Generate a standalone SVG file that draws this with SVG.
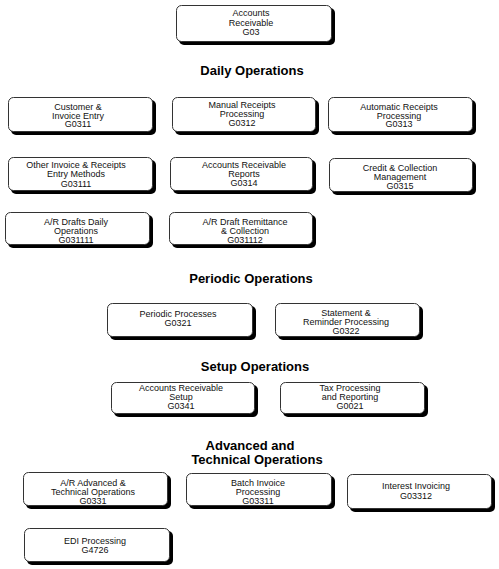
<svg xmlns="http://www.w3.org/2000/svg" width="499" height="569" viewBox="0 0 499 569">
<style>
.sh{fill:#000}
.bx{fill:#fff;stroke:#333;stroke-width:1}
.t{font-family:"Liberation Sans",Arial,sans-serif;font-size:9px;fill:#111;text-anchor:middle}
.h{font-family:"Liberation Sans",Arial,sans-serif;font-size:13px;font-weight:bold;fill:#000;text-anchor:middle}
</style>
<rect width="499" height="569" fill="#fff"/>
<g id="headings">
<text class="h" x="252" y="75">Daily Operations</text>
<text class="h" x="251" y="283">Periodic Operations</text>
<text class="h" x="255" y="371">Setup Operations</text>
<text class="h" x="250" y="450">Advanced and</text>
<text class="h" x="257" y="464">Technical Operations</text>
</g>
<g id="connectors"></g>
<g id="n-g03">
<rect class="sh" x="179" y="8" width="156" height="37" rx="5"/>
<rect class="bx" x="176.5" y="5.5" width="155" height="36" rx="5"/>
<text class="t" x="251" y="16">Accounts</text>
<text class="t" x="251" y="25.5">Receivable</text>
<text class="t" x="251" y="34.5">G03</text>
</g>
<g id="n-g0311">
<rect class="sh" x="11" y="100" width="145" height="35" rx="5"/>
<rect class="bx" x="8.5" y="97.5" width="144" height="34" rx="5"/>
<text class="t" x="78" y="110">Customer &amp;</text>
<text class="t" x="78" y="118.5">Invoice Entry</text>
<text class="t" x="78" y="127">G0311</text>
</g>
<g id="n-g0312">
<rect class="sh" x="175" y="100" width="144" height="35" rx="5"/>
<rect class="bx" x="172.5" y="97.5" width="143" height="34" rx="5"/>
<text class="t" x="242" y="108">Manual Receipts</text>
<text class="t" x="242" y="117">Processing</text>
<text class="t" x="242" y="126">G0312</text>
</g>
<g id="n-g0313">
<rect class="sh" x="331" y="100" width="145" height="35" rx="5"/>
<rect class="bx" x="328.5" y="97.5" width="144" height="34" rx="5"/>
<text class="t" x="399" y="110">Automatic Receipts</text>
<text class="t" x="399" y="118.5">Processing</text>
<text class="t" x="399" y="127">G0313</text>
</g>
<g id="n-g03111">
<rect class="sh" x="11" y="160" width="145" height="34" rx="5"/>
<rect class="bx" x="8.5" y="157.5" width="144" height="33" rx="5"/>
<text class="t" x="76" y="168">Other Invoice &amp; Receipts</text>
<text class="t" x="76" y="177">Entry Methods</text>
<text class="t" x="76" y="186.5">G03111</text>
</g>
<g id="n-g0314">
<rect class="sh" x="173" y="160" width="143" height="34" rx="5"/>
<rect class="bx" x="170.5" y="157.5" width="142" height="33" rx="5"/>
<text class="t" x="244" y="168">Accounts Receivable</text>
<text class="t" x="244" y="177">Reports</text>
<text class="t" x="244" y="185.5">G0314</text>
</g>
<g id="n-g0315">
<rect class="sh" x="332" y="161" width="144" height="34" rx="5"/>
<rect class="bx" x="329.5" y="158.5" width="143" height="33" rx="5"/>
<text class="t" x="400" y="171">Credit &amp; Collection</text>
<text class="t" x="400" y="180">Management</text>
<text class="t" x="400" y="188.5">G0315</text>
</g>
<g id="n-g031111">
<rect class="sh" x="8" y="215" width="145" height="33" rx="5"/>
<rect class="bx" x="5.5" y="212.5" width="144" height="32" rx="5"/>
<text class="t" x="76" y="225">A/R Drafts Daily</text>
<text class="t" x="76" y="234">Operations</text>
<text class="t" x="76" y="243">G031111</text>
</g>
<g id="n-g031112">
<rect class="sh" x="172" y="215" width="144" height="33" rx="5"/>
<rect class="bx" x="169.5" y="212.5" width="143" height="32" rx="5"/>
<text class="t" x="245" y="225">A/R Draft Remittance</text>
<text class="t" x="245" y="234">&amp; Collection</text>
<text class="t" x="245" y="243">G031112</text>
</g>
<g id="n-g0321">
<rect class="sh" x="110" y="306" width="146" height="34" rx="5"/>
<rect class="bx" x="107.5" y="303.5" width="145" height="33" rx="5"/>
<text class="t" x="178" y="317">Periodic Processes</text>
<text class="t" x="178" y="326">G0321</text>
</g>
<g id="n-g0322">
<rect class="sh" x="278" y="306" width="145" height="34" rx="5"/>
<rect class="bx" x="275.5" y="303.5" width="144" height="33" rx="5"/>
<text class="t" x="346" y="316">Statement &amp;</text>
<text class="t" x="346" y="325">Reminder Processing</text>
<text class="t" x="346" y="334">G0322</text>
</g>
<g id="n-g0341">
<rect class="sh" x="114" y="385" width="144" height="32" rx="5"/>
<rect class="bx" x="111.5" y="382.5" width="143" height="31" rx="5"/>
<text class="t" x="181" y="391">Accounts Receivable</text>
<text class="t" x="181" y="400">Setup</text>
<text class="t" x="181" y="409">G0341</text>
</g>
<g id="n-g0021">
<rect class="sh" x="283" y="385" width="145" height="32" rx="5"/>
<rect class="bx" x="280.5" y="382.5" width="144" height="31" rx="5"/>
<text class="t" x="350" y="391">Tax Processing</text>
<text class="t" x="350" y="400">and Reporting</text>
<text class="t" x="350" y="409">G0021</text>
</g>
<g id="n-g0331">
<rect class="sh" x="26" y="475" width="145" height="34" rx="5"/>
<rect class="bx" x="23.5" y="472.5" width="144" height="33" rx="5"/>
<text class="t" x="93" y="486">A/R Advanced &amp;</text>
<text class="t" x="93" y="495">Technical Operations</text>
<text class="t" x="93" y="504">G0331</text>
</g>
<g id="n-g03311">
<rect class="sh" x="189" y="476" width="146" height="33" rx="5"/>
<rect class="bx" x="186.5" y="473.5" width="145" height="32" rx="5"/>
<text class="t" x="258" y="486">Batch Invoice</text>
<text class="t" x="258" y="495">Processing</text>
<text class="t" x="258" y="503.5">G03311</text>
</g>
<g id="n-g03312">
<rect class="sh" x="350" y="477" width="145" height="35" rx="5"/>
<rect class="bx" x="347.5" y="474.5" width="144" height="34" rx="5"/>
<text class="t" x="416" y="489">Interest Invoicing</text>
<text class="t" x="416" y="499">G03312</text>
</g>
<g id="n-g4726">
<rect class="sh" x="27" y="531" width="146" height="34" rx="5"/>
<rect class="bx" x="24.5" y="528.5" width="145" height="33" rx="5"/>
<text class="t" x="95" y="544">EDI Processing</text>
<text class="t" x="95" y="552.5">G4726</text>
</g>
</svg>
